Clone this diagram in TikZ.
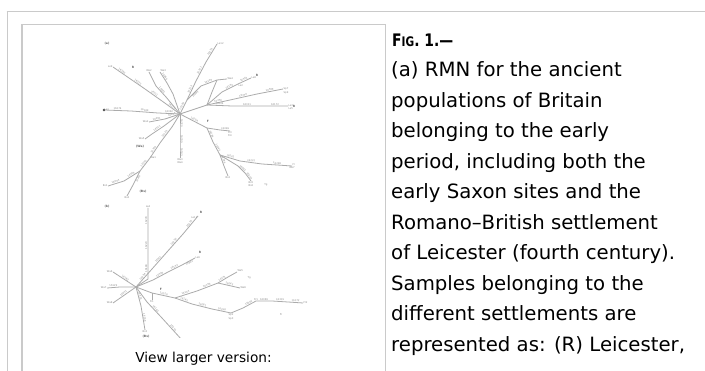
\documentclass[tikz,border=0pt]{standalone}
\usepackage{graphicx}
\usepackage{fontspec}
\setmainfont{DejaVu Sans}
\definecolor{frameC}{HTML}{CACACA}
\definecolor{netC}{HTML}{ABABAB}
\definecolor{labC}{HTML}{8C8C8C}
\begin{document}
\begin{tikzpicture}[x=1pt,y=-1pt,
  frameline/.style={draw=frameC,line width=1pt},
  edge/.style={draw=netC,line width=0.8pt,line join=round},
  lab/.style={font=\fontsize{2.5}{2.8}\selectfont,text=labC,inner sep=0.4pt},
  elab/.style={lab,sloped,above},
  elabb/.style={lab,sloped,below},
  blab/.style={font=\bfseries\fontsize{3}{3.4}\selectfont,text=black!60,inner sep=0.4pt},
  captxt/.style={anchor=base west,inner sep=0pt,font=\fontsize{19.7}{24}\selectfont}]
\useasboundingbox (0,0) rectangle (705,371);
\fill[white] (0,0) rectangle (705,371);
% page frame
\draw[frameline] (6.5,11.5) -- (705,11.5);
\draw[frameline] (7,11.5) -- (7,371);
\draw[frameline] (21,24.7) -- (386,24.7);
\draw[frameline] (385.7,24.7) -- (385.7,371);
\draw[draw=frameC,line width=2pt] (21.7,24.2) -- (21.7,371);

% ---------------- network (a) ----------------
\begin{scope}
\clip (60,30) rectangle (340,338);
\node[blab] (la) at (107,44) {(a)};
\coordinate (a0) at (180,114);
\foreach \n/\p in {t1/{187,100},t2/{196,81},t3/{206,62},t4/{217,44},
  rq/{217,80},c1/{201,86},re/{227,79},rn/{207,105},
  r1/{230,100},r2/{257,94},r3/{283,89},s1/{232,106},s2/{262,106},s3/{288,106},
  u1/{222,92},u2/{238,84},u3/{251,78},v1/{212,92},
  dr1/{207,128},q1/{220,130},q2/{230,131},w1/{213,142},dr2/{220,155},
  x1/{240,161},x2/{262,164},x3/{292,166},y1/{224,166},y2/{228,176},
  z1/{238,166},z2/{245,173},z3/{251,181},
  d1/{180,132},d2/{180,146},d3/{180,158},
  l1/{172,127},l2/{160,143},l3/{150,158},l4/{140,171},l5/{124,181},l6/{108,186},
  l7/{133,185},l8/{127,196},
  k1/{165,119},k2/{149,122},k3/{164,126},k4/{152,134},k5/{145,139},
  h1/{158,113},h2/{131,111},h3/{104,110},
  g1/{162,101},g2/{145,89},g3/{129,78},g4/{113,67},
  p1/{166,97},p2/{156,86},p3/{149,72},p4/{173,94},p5/{167,83},p6/{160,72}}
  \coordinate (\n) at (\p);
\draw[edge] (a0) -- node[elab]{16189} (t1) -- node[elab]{16223} (t2) -- node[elab]{16311} (t3) -- node[elab]{16278} (t4);
\draw[edge] (t1) -- node[elabb]{16093} (c1) -- node[elab]{16129} (rq) -- (re);
\draw[edge] (a0) -- (rn);
\draw[edge] (rn) -- node[elab]{16256} (r1) -- node[elab]{16270} (r2) -- node[elab]{16399} (r3);
\draw[edge] (rn) -- node[elab]{16224} (s1) -- node[elab]{16311} (s2) -- node[elab]{16172} (s3);
\draw[edge] (rn) -- (u1) -- node[elab]{16192} (u2) -- node[elab]{16362} (u3);
\draw[edge] (rn) -- (v1) -- (rq);
\draw[edge] (a0) -- node[elab]{16294} (dr1) -- (q1) -- node[elab]{16069} (q2);
\draw[edge] (dr1) -- node[elab]{16126} (w1) -- node[elab]{16145} (dr2);
\draw[edge] (dr2) -- node[elab]{16261} (x1) -- node[elab]{16231} (x2) -- node[elab]{16298} (x3);
\draw[edge] (dr2) -- node[elab]{16186} (y1) -- (y2);
\draw[edge] (dr2) -- (z1) -- node[elab]{16092} (z2) -- node[elab]{16243} (z3);
\draw[edge] (a0) -- node[elab]{16320} (d1) -- node[elab]{16209} (d2) -- node[elab]{16183} (d3);
\draw[edge] (a0) -- (l1) -- node[elab]{16163} (l2) -- node[elab]{16354} (l3) -- node[elab]{16176} (l4) -- node[elab]{16304} (l5) -- node[elab]{16093} (l6);
\draw[edge] (l4) -- node[elabb]{16260} (l7) -- (l8);
\draw[edge] (a0) -- node[elab]{16235} (k1) -- node[elab]{16291} (k2);
\draw[edge] (a0) -- (k3) -- node[elab]{16311} (k4) -- (k5);
\draw[edge] (a0) -- node[elab]{16362} (h1) -- node[elab]{16189} (h2) -- node[elab]{16274} (h3);
\draw[edge] (a0) -- node[elab]{16129} (g1) -- node[elab]{16311} (g2) -- node[elab]{16223} (g3) -- node[elab]{16390} (g4);
\draw[edge] (a0) -- (p1) -- node[elab]{16051} (p2) -- (p3);
\draw[edge] (a0) -- (p4) -- (p5) -- node[elab]{16266} (p6);
\fill[black!70] (h3) circle (1.3);
% end labels
\node[lab,anchor=west] (et4) at (t4) {Le12};
\node[lab,anchor=west] (ere) at (re) {We4};
\node[lab,anchor=west] (er3) at (r3) {Sp7};
\node[lab,anchor=north] at (er3.south) {Sp9};
\node[lab,anchor=west] (es3) at (s3) {Le3};
\node[lab,anchor=north] at (es3.south) {Le5};
\node[blab] at (294,106) {R};
\node[lab,anchor=west] (eu3) at (u3) {Le8};
\node[lab,anchor=north west] at (u2) {Le2};
\node[blab] at (257,75) {R};
\node[blab] at (133,67) {R};
\node[blab] at (208,121) {F};
\node[lab,anchor=north] (eq2) at (q2) {Fi3};
\node[lab,anchor=north] at (eq2.south) {Fi4};
\node[lab,anchor=south west] at (x3) {Fr};
\node[lab,anchor=north] at (x3) {We7};
\node[lab,anchor=north] (ey2) at (y2) {Bs2};
\node[lab,anchor=north] (ez3) at (z3) {Bs5};
\node[lab,anchor=north] at (ez3.south) {Bs6};
\node[lab,anchor=north] at (266,183) {Tg};
\node[lab,anchor=north] (ed3) at (d3) {Wa3};
\node[lab,anchor=north] at (ed3.south) {Wa4};
\node[lab,anchor=east] at (l6) {Bs1};
\node[lab,anchor=north] at (l8) {Bs4};
\node[blab] at (140,147) {(Wa)};
\node[blab] at (143,192) {(Bs)};
\node[lab,anchor=west] at (l3) {Wa1};
\node[lab,anchor=east] at (k2) {Wa2};
\node[lab,anchor=east] at (k5) {Wa5};
\node[lab,anchor=west] at (h3) {Le1};
\node[lab,anchor=east] at (g4) {Le9};
\node[lab,anchor=south] at (p3) {We2};
\node[lab,anchor=south west] at (p6) {We3};
\end{scope}

% ---------------- network (b) ----------------
\begin{scope}
\clip (60,195) rectangle (340,338);
\node[blab] (lb) at (107,207) {(b)};
\foreach \n/\p in {b0/{136,287},e1/{148,279},e2/{148,258},e3/{148,233},e4/{148,208},
  f1/{152,269},f2/{167,252},f3/{183,234},f4/{198,216},
  m1/{153,280},m2/{168,272},m3/{182,265},m4/{195,258},
  o1/{152,293},bn/{175,298},o2/{197,291},bq/{218,283},o3/{228,277},o4/{237,272},o5/{240,288},
  i1/{192,304},i2/{212,309},bm/{231,313},i6/{243,308},bp/{256,301},i3/{272,301},i4/{288,302},i5/{303,303},
  j1/{141,306},j2/{145,330},j3/{147,302},j4/{162,318},j5/{182,340},
  j6/{113,272},j7/{120,287},j8/{107,288},j9/{113,303},j10/{152,300}}
  \coordinate (\n) at (\p);
\draw[edge] (b0) -- (e1) -- node[elab]{16189} (e2) -- node[elab]{16223} (e3) -- node[elab]{16278} (e4);
\draw[edge] (b0) -- node[elab]{16294} (f1) -- node[elab]{16311} (f2) -- node[elab]{16256} (f3) -- node[elab]{16270} (f4);
\draw[edge] (b0) -- (m1) -- node[elab]{16304} (m2) -- node[elab]{16192} (m3) -- node[elabb]{16362} (m4);
\draw[edge] (b0) -- (o1) -- node[elab]{16126} (bn) -- node[elab]{16163} (o2) -- node[elab]{16186} (bq);
\draw[edge] (bq) -- node[elab]{16231} (o3) -- (o4);
\draw[edge] (bq) -- node[elab]{16243} (o5);
\draw[edge] (bn) -- node[elab]{16145} (i1) -- node[elab]{16261} (i2) -- node[elab]{16298} (bm) -- (i6) -- node[elab]{16092} (bp) -- node[elab]{16069} (i3) -- node[elab]{16319} (i4) -- node[elab]{16172} (i5);
\draw[edge] (b0) -- node[elab]{16320} (j1) -- node[elab]{16209} (j2);
\draw[edge] (b0) -- (j3) -- node[elab]{16183} (j4) -- node[elab]{16274} (j5);
\draw[edge] (b0) -- node[elab]{16362} (j6);
\draw[edge] (b0) -- (j7) -- node[elab]{16129} (j8);
\draw[edge] (b0) -- node[elab]{16051} (j9);
\draw[edge] (o1) -- (j10);
% end labels
\node[lab,anchor=south] at (e4) {Le4};
\node[lab,anchor=north east] at (f4) {Le11};
\node[blab] at (201,212) {R};
\node[lab,anchor=west] at (m4) {Le6};
\node[blab] at (200,252) {R};
\node[lab,anchor=south west] at (o4) {We5};
\node[lab,anchor=west] at (o5) {We6};
\node[lab,anchor=north west] at (247,276) {Tg};
\node[lab,anchor=north] (ebm) at (bm) {Sp2};
\node[lab,anchor=north] at (ebm.south) {Sp3};
\node[lab,anchor=south] at (bp) {Fr1};
\node[lab,anchor=west] at (i5) {Fr2};
\node[lab,anchor=north] at (281,313) {Fr};
\node[lab,anchor=north] at (j2) {Bs3};
\node[blab] at (146,337) {(Bs)};
\node[lab,anchor=east] at (j6) {Wa6};
\node[lab,anchor=east] at (j8) {Wa7};
\node[lab,anchor=east] at (j9) {Wa8};
\node[lab,anchor=north] at (j10) {Fi1};
\node[blab] at (161,289) {F};
\end{scope}

% ---------------- texts ----------------
\node[anchor=base,inner sep=0pt,font=\fontsize{13.7}{16}\selectfont] (view) at (203.5,362.5) {View larger version:};
\node[captxt] (fig) at (392,46.5) {\resizebox{61pt}{12.6pt}{\bfseries F\fontsize{15}{18}\selectfont IG\fontsize{19.7}{24}\selectfont. 1.—}};
\node[captxt] (c1) at (391,77.0) {(a) RMN for the ancient};
\node[captxt] (c2) at (391,107.5) {populations of Britain};
\node[captxt] (c3) at (391,138.0) {belonging to the early};
\node[captxt] (c4) at (391,168.5) {period, including both the};
\node[captxt] (c5) at (391,199.0) {early Saxon sites and the};
\node[captxt] (c6) at (391,229.5) {Romano–British settlement};
\node[captxt] (c7) at (391,260.0) {of Leicester (fourth century).};
\node[captxt] (c8) at (391,290.5) {Samples belonging to the};
\node[captxt] (c9) at (391,321.0) {different settlements are};
\node[captxt] (c10) at (391,351.5) {represented as: (R) Leicester,};
\end{tikzpicture}
\end{document}
